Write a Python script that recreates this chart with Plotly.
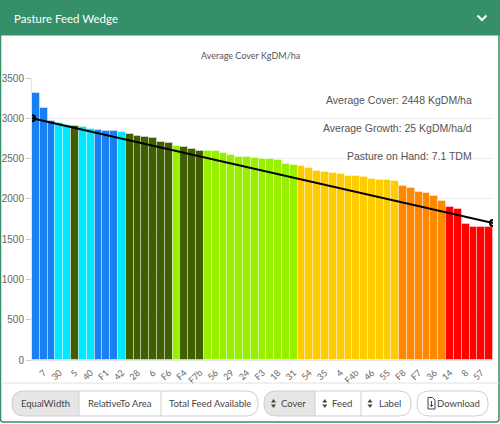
import plotly.graph_objects as go

# paddock covers (KgDM/ha), sorted high to low
covers = [
    3309, 3129, 2963, 2943, 2918, 2901, 2893, 2864, 2860, 2848,
    2844, 2827, 2807, 2777, 2773, 2761, 2703, 2690, 2653, 2641,
    2616, 2600, 2596, 2594, 2571, 2547, 2520, 2515, 2501, 2497,
    2489, 2485, 2435, 2418, 2406, 2386, 2344, 2332, 2324, 2303,
    2278, 2278, 2270, 2241, 2232, 2232, 2220, 2163, 2138, 2084,
    2076, 2039, 1969, 1898, 1869, 1692, 1647, 1647, 1647,
]
# colour band of each paddock
bands = (
    ["blue"] * 3 + ["cyan"] * 2 + ["dark"] + ["cyan"] * 2 + ["blue"] * 3
    + ["cyan"] + ["dark"] * 6 + ["light"] + ["dark"] * 3 + ["light"] * 12
    + ["yellow"] * 13 + ["orange"] * 6 + ["red"] * 6
)
band_colors = {
    "blue": "#1a7ff2",
    "cyan": "#00e8ff",
    "dark": "#3f5f00",
    "light": "#98f000",
    "yellow": "#ffcc00",
    "orange": "#ff8800",
    "red": "#ff0000",
}
# only every second paddock gets a label on the axis
label_positions = list(range(1, 58, 2))
paddock_labels = [
    "7", "30", "5", "40", "F1", "42", "28", "6", "F6", "F4", "F7b", "56",
    "29", "24", "F3", "18", "31", "54", "35", "4", "F4b", "46", "55", "F8",
    "F7", "36", "14", "8", "57",
]
wedge_x = [-0.5, 58.5]
wedge_y = [3000, 1700]
stats = [
    "Average Cover: 2448 KgDM/ha",
    "Average Growth: 25 KgDM/ha/d",
    "Pasture on Hand: 7.1 TDM",
]
buttons_left = ["EqualWidth", "RelativeTo Area", "Total Feed Available"]
buttons_right = ["Cover", "Feed", "Label"]

W, H = 500, 424
GREEN = "#358f68"


def X(px):
    return px / W


def Y(py):
    return 1 - py / H


def rrect(x0, y0, x1, y1, r, left=True, right=True):
    """rounded rect path in paper coords (pixel inputs)"""
    rl = r if left else 0
    rr = r if right else 0
    p = f"M {X(x0 + rl)},{Y(y0)} L {X(x1 - rr)},{Y(y0)} "
    p += f"Q {X(x1)},{Y(y0)} {X(x1)},{Y(y0 + rr)} L {X(x1)},{Y(y1 - rr)} "
    p += f"Q {X(x1)},{Y(y1)} {X(x1 - rr)},{Y(y1)} L {X(x0 + rl)},{Y(y1)} "
    p += f"Q {X(x0)},{Y(y1)} {X(x0)},{Y(y1 - rl)} L {X(x0)},{Y(y0 + rl)} "
    p += f"Q {X(x0)},{Y(y0)} {X(x0 + rl)},{Y(y0)} Z"
    return p


def text(px, py, s, size, family="Lato", color="#444", xanchor="center"):
    return dict(x=X(px), y=Y(py), xref="paper", yref="paper", text=s, showarrow=False,
                xanchor=xanchor, yanchor="middle", font=dict(family=family, size=size, color=color))


fig = go.Figure()

fig.add_trace(
    go.Bar(
        x=list(range(len(covers))),
        y=covers,
        marker=dict(
            color=[band_colors[b] for b in bands],
            line=dict(color="rgba(255,255,255,0.4)", width=1),
        ),
        showlegend=False,
    )
)

fig.add_trace(
    go.Scatter(
        x=wedge_x,
        y=wedge_y,
        mode="lines+markers",
        line=dict(color="black", width=2),
        marker=dict(symbol="circle-open", size=6, color="black", line=dict(width=2)),
        showlegend=False,
    )
)

shapes = []
annotations = []

# header bar
shapes.append(dict(type="rect", xref="paper", yref="paper", x0=X(0), x1=X(500),
                   y0=Y(0), y1=Y(35.5), fillcolor=GREEN, line=dict(width=0), layer="below"))
annotations.append(text(12, 18, "Pasture Feed Wedge", 11.5, color="white", xanchor="left"))
shapes.append(dict(type="path", xref="paper", yref="paper",
                   path=f"M {X(477.5)},{Y(15.5)} L {X(482)},{Y(20)} L {X(486.5)},{Y(15.5)}",
                   line=dict(color="white", width=2)))

# outer frame
shapes.append(dict(type="path", xref="paper", yref="paper", path=rrect(0.5, 0.5, 499, 422, 3),
                   line=dict(color=GREEN, width=1.5)))

# chart title
annotations.append(text(250, 55, "Average Cover KgDM/ha", 9, color="#555"))

# summary text
for i, s in enumerate(stats):
    annotations.append(text(474, 100 + 28 * i, s, 10.5, family="Liberation Sans", color="#555",
                            xanchor="right"))

# footer separator
shapes.append(dict(type="line", xref="paper", yref="paper", x0=X(1), x1=X(499), y0=Y(383), y1=Y(383),
                   line=dict(color="#e2e2e2", width=1)))

# left button group
edges_l = [12, 79, 161, 258]
shapes.append(dict(type="path", xref="paper", yref="paper", path=rrect(12, 391, 79, 416, 12, right=False),
                   fillcolor="#e6e6e6", line=dict(width=0)))
shapes.append(dict(type="path", xref="paper", yref="paper", path=rrect(12, 391, 258, 416, 12),
                   line=dict(color="#cfcfcf", width=1)))
for i, t in enumerate(buttons_left):
    if i > 0:
        shapes.append(dict(type="line", xref="paper", yref="paper", x0=X(edges_l[i]), x1=X(edges_l[i]),
                           y0=Y(391), y1=Y(416), line=dict(color="#cfcfcf", width=1)))
    annotations.append(text((edges_l[i] + edges_l[i + 1]) / 2, 403.5, t, 9.5))

# right button group
edges_r = [264, 315, 361, 411]
shapes.append(dict(type="path", xref="paper", yref="paper", path=rrect(264, 391, 315, 416, 12, right=False),
                   fillcolor="#e6e6e6", line=dict(width=0)))
shapes.append(dict(type="path", xref="paper", yref="paper", path=rrect(264, 391, 411, 416, 12),
                   line=dict(color="#cfcfcf", width=1)))
for i, t in enumerate(buttons_right):
    if i > 0:
        shapes.append(dict(type="line", xref="paper", yref="paper", x0=X(edges_r[i]), x1=X(edges_r[i]),
                           y0=Y(391), y1=Y(416), line=dict(color="#cfcfcf", width=1)))
    cx = (edges_r[i] + edges_r[i + 1]) / 2 + 4
    annotations.append(text(cx, 403.5, t, 9.5))
    # sort icon
    ix = cx - len(t) * 2.8 - 6
    shapes.append(dict(type="path", xref="paper", yref="paper",
                       path=f"M {X(ix - 2.5)},{Y(402.5)} L {X(ix + 2.5)},{Y(402.5)} L {X(ix)},{Y(399)} Z",
                       fillcolor="#444", line=dict(width=0)))
    shapes.append(dict(type="path", xref="paper", yref="paper",
                       path=f"M {X(ix - 2.5)},{Y(404.5)} L {X(ix + 2.5)},{Y(404.5)} L {X(ix)},{Y(408)} Z",
                       fillcolor="#444", line=dict(width=0)))

# download button
shapes.append(dict(type="path", xref="paper", yref="paper", path=rrect(417, 391, 488, 416, 12),
                   line=dict(color="#cfcfcf", width=1)))
shapes.append(dict(type="path", xref="paper", yref="paper",
                   path=f"M {X(428)},{Y(397.5)} L {X(432.5)},{Y(397.5)} L {X(435)},{Y(400)} L {X(435)},{Y(409)} "
                        f"L {X(428)},{Y(409)} Z",
                   line=dict(color="#444", width=1)))
shapes.append(dict(type="path", xref="paper", yref="paper",
                   path=f"M {X(431.5)},{Y(401)} L {X(431.5)},{Y(406.5)} M {X(429.8)},{Y(404.8)} "
                        f"L {X(431.5)},{Y(406.5)} L {X(433.2)},{Y(404.8)}",
                   line=dict(color="#444", width=1)))
annotations.append(text(458, 403.5, "Download", 9.5))

fig.update_layout(
    width=W,
    height=H,
    margin=dict(l=0, r=0, t=0, b=0),
    paper_bgcolor="white",
    plot_bgcolor="white",
    bargap=0,
    shapes=shapes,
    annotations=annotations,
    xaxis=dict(
        domain=[X(32), X(493)],
        range=[-0.5, 58.5],
        tickmode="array",
        tickvals=label_positions,
        ticktext=paddock_labels,
        tickangle=-45,
        ticks="outside",
        ticklen=3,
        tickcolor="rgba(0,0,0,0)",
        tickfont=dict(family="Lato", size=9, color="#666"),
        showgrid=False,
        showline=True,
        linecolor="#e6e6e6",
        zeroline=False,
        automargin=False,
        fixedrange=True,
    ),
    yaxis=dict(
        domain=[Y(360), Y(78)],
        range=[0, 3500],
        dtick=500,
        ticks="outside",
        ticklen=5,
        tickcolor="#ccc",
        tickfont=dict(family="Liberation Sans", size=10, color="#666"),
        gridcolor="#eeeeee",
        showline=True,
        linecolor="#e6e6e6",
        zeroline=False,
        automargin=False,
        fixedrange=True,
    ),
)

fig.write_html(
    "out.html",
    config={"displayModeBar": False},
    post_script="document.body.style.margin='0';document.body.style.overflow='hidden';",
)
